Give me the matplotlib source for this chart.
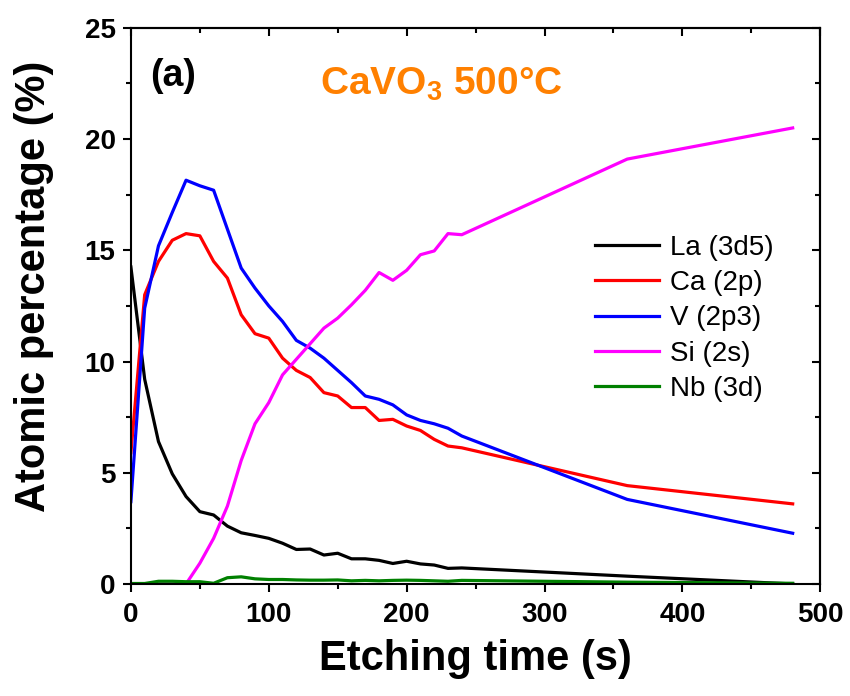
import matplotlib
matplotlib.use('Agg')
import matplotlib.pyplot as plt
from matplotlib.ticker import MultipleLocator, NullFormatter

plt.rcParams['font.family'] = ['Liberation Sans', 'DejaVu Sans']
plt.rcParams['mathtext.fontset'] = 'custom'
plt.rcParams['mathtext.rm'] = 'Liberation Sans'
plt.rcParams['mathtext.bf'] = 'Liberation Sans:bold'

# etching time (s) and atomic percentages from the XPS depth profile
etch_time = [0, 10, 20, 30, 40, 50, 60, 70, 80, 90, 100, 110, 120, 130,
             140, 150, 160, 170, 180, 190, 200, 210, 220, 230, 240, 360, 480]
la_3d5 = [14.25, 9.2, 6.4, 4.95, 3.93, 3.25, 3.1, 2.6, 2.3, 2.18, 2.05, 1.83, 1.55, 1.57,
          1.3, 1.38, 1.13, 1.13, 1.06, 0.92, 1.02, 0.9, 0.85, 0.7, 0.72, 0.35, 0.0]
ca_2p = [5.9, 13.0, 14.5, 15.45, 15.75, 15.65, 14.5, 13.75, 12.1, 11.25, 11.05, 10.15, 9.6, 9.28,
         8.6, 8.45, 7.93, 7.93, 7.35, 7.4, 7.1, 6.9, 6.5, 6.2, 6.12, 4.42, 3.6]
v_2p3 = [3.7, 12.4, 15.2, 16.7, 18.15, 17.9, 17.7, 15.95, 14.2, 13.3, 12.5, 11.8, 10.95, 10.6,
         10.15, 9.6, 9.05, 8.45, 8.3, 8.05, 7.6, 7.35, 7.2, 7.0, 6.65, 3.8, 2.28]
si_2s = [0, 0, 0, 0, 0, 0.93, 2.05, 3.5, 5.55, 7.2, 8.15, 9.4, 10.1, 10.8,
         11.5, 11.95, 12.55, 13.2, 14.0, 13.65, 14.1, 14.8, 14.97, 15.75, 15.7, 19.1, 20.5]
nb_3d = [0.02, 0.02, 0.12, 0.12, 0.1, 0.1, 0.03, 0.28, 0.32, 0.23, 0.2, 0.2, 0.18, 0.17,
         0.17, 0.18, 0.14, 0.16, 0.14, 0.16, 0.17, 0.16, 0.14, 0.12, 0.16, 0.08, 0.03]

series = [
    (la_3d5, 'black', 'La (3d5)'),
    (ca_2p, 'red', 'Ca (2p)'),
    (v_2p3, 'blue', 'V (2p3)'),
    (si_2s, 'magenta', 'Si (2s)'),
    (nb_3d, 'green', 'Nb (3d)'),
]

fig = plt.figure(figsize=(8.5, 6.96), dpi=100)
ax = fig.add_axes([0.154, 0.161, 0.811, 0.799])

for values, color, label in series:
    ax.plot(etch_time, values, color=color, lw=2.3, label=label)

ax.set_xlim(0, 500)
ax.set_ylim(0, 25)
ax.xaxis.set_major_locator(MultipleLocator(100))
ax.xaxis.set_minor_locator(MultipleLocator(50))
ax.yaxis.set_major_locator(MultipleLocator(5))
ax.yaxis.set_minor_locator(MultipleLocator(2.5))

for side in ax.spines.values():
    side.set_linewidth(1.5)
ax.tick_params(which='major', direction='out', length=6, width=1.5, labelsize=20, pad=5)
ax.tick_params(axis='x', which='major', pad=7)
ax.tick_params(which='minor', direction='out', length=3.5, width=1.5)
for lbl in ax.get_xticklabels() + ax.get_yticklabels():
    lbl.set_fontweight('bold')

# top and right ticks point into the plot
top = ax.secondary_xaxis('top')
right = ax.secondary_yaxis('right')
top.xaxis.set_major_locator(MultipleLocator(100))
top.xaxis.set_minor_locator(MultipleLocator(50))
right.yaxis.set_major_locator(MultipleLocator(5))
right.yaxis.set_minor_locator(MultipleLocator(2.5))
for sec in (top, right):
    sec.tick_params(which='major', direction='in', length=6, width=1.5)
    sec.tick_params(which='minor', direction='in', length=3.5, width=1.5)
    for s in sec.spines.values():
        s.set_linewidth(1.5)
top.xaxis.set_major_formatter(NullFormatter())
right.yaxis.set_major_formatter(NullFormatter())

ax.set_xlabel('Etching time (s)', fontsize=30, fontweight='bold', labelpad=8)
ax.set_ylabel('Atomic percentage (%)', fontsize=30, fontweight='bold')
ax.yaxis.set_label_coords(-0.112, 0.535)

ax.text(0.028, 0.945, '(a)', transform=ax.transAxes, fontsize=27,
        fontweight='bold', va='top', ha='left')
ax.text(0.274, 0.88, r'CaVO$_\mathbf{3}$ 500°C', transform=ax.transAxes, fontsize=28,
        fontweight='bold', color='#ff8000', va='baseline', ha='left')

ax.legend(loc='upper left', bbox_to_anchor=(0.673, 0.628), frameon=False,
          fontsize=20, handlelength=2.3, handletextpad=0.4, labelspacing=0.334,
          borderpad=0, borderaxespad=0)

fig.savefig('out.png', dpi=100)
